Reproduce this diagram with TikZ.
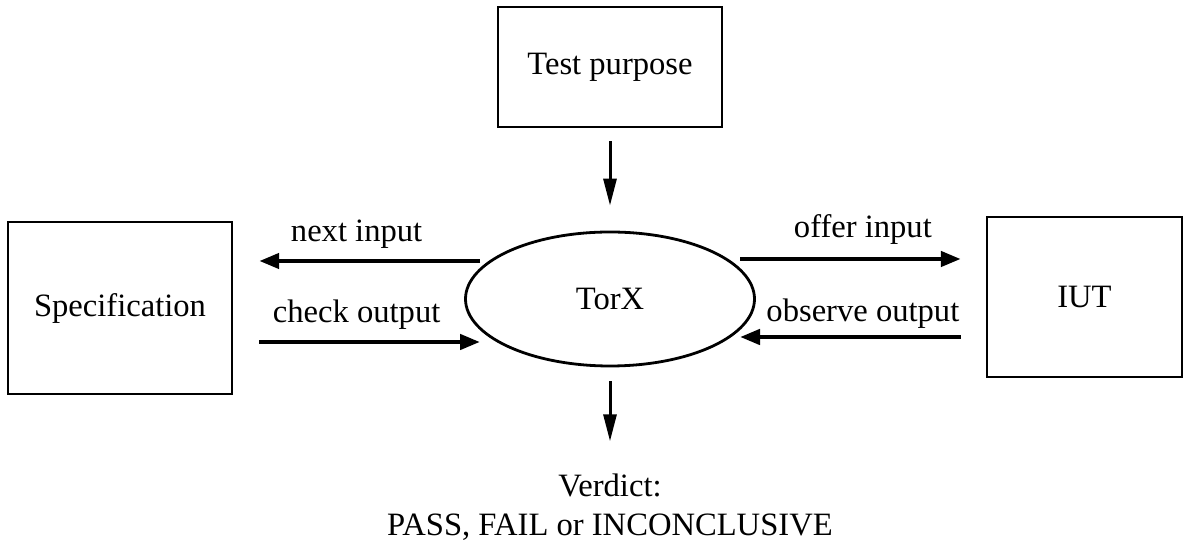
\documentclass[tikz,border=0pt]{standalone}
\usepackage{fontspec}
\setmainfont{Liberation Serif}
\usetikzlibrary{arrows.meta,shapes.geometric}
\begin{document}
\begin{tikzpicture}[x=0.5pt,y=-0.5pt,
        box/.style={draw,line width=1.2pt,inner sep=0pt},
        flow/.style={line width=2.2pt,-{Triangle[length=10pt,width=7.5pt]}},
        down/.style={line width=1.5pt,-{Triangle[length=13.5pt,width=6.5pt]}},
        lbl/.style={font=\fontsize{16.3}{19}\selectfont,inner sep=0pt}]
                \useasboundingbox (0,0) rectangle (1190,544);
                \node[box,minimum width=112pt,minimum height=60pt,font=\fontsize{16.3}{19}\selectfont] (purpose) at (610,67) {Test purpose};
                \node[box,minimum width=112pt,minimum height=86pt,font=\fontsize{16.3}{19}\selectfont] (spec) at (120,308) {Specification};
                \node[box,minimum width=97.5pt,minimum height=80pt,font=\fontsize{16.3}{19}\selectfont] (iut) at (1084.5,297) {IUT};
                \node[draw,ellipse,line width=1.4pt,minimum width=144.5pt,minimum height=67pt,inner sep=0pt,font=\fontsize{16.3}{19}\selectfont] (torx) at (610,299) {TorX};
                \node[lbl,align=center,font=\fontsize{16.3}{19.5}\selectfont] (verdict) at (610,507) {Verdict:\\PASS, FAIL or INCONCLUSIVE};
                % arrow ends near the ellipse
                \coordinate (ni) at (480,261);
                \coordinate (co) at (480,342);
                \coordinate (oi) at (740,259);
                \coordinate (oo) at (740,337);
                \draw[down,shorten <=6.5pt,shorten >=12.5pt] (purpose.south) -- (torx.north);
                \draw[down,shorten <=7pt,shorten >=16pt] (torx.south) -- (verdict.north);
                \draw[flow,shorten >=13pt] (ni) -- node[lbl,above=5pt] (lni) {next input} (spec.east |- ni);
                \draw[flow,shorten <=13pt] (spec.east |- co) -- node[lbl,above=5pt] (lco) {check output} (co);
                \draw[flow,shorten >=12.5pt] (oi) -- node[lbl,above=6pt] (loi) {offer input} (iut.west |- oi);
                \draw[flow,shorten <=12.5pt] (iut.west |- oo) -- node[lbl,above=3pt] (loo) {observe output} (oo);
            \end{tikzpicture}
\end{document}
